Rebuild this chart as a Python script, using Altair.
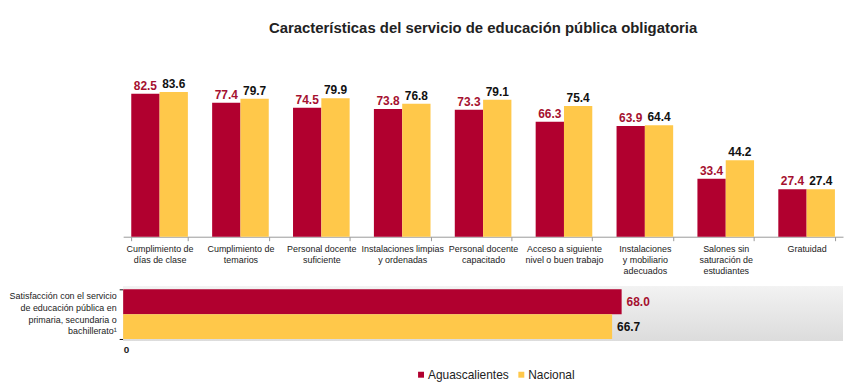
import altair as alt
import pandas as pd

categories = [
    "Cumplimiento de\ndías de clase",
    "Cumplimiento de\ntemarios",
    "Personal docente\nsuficiente",
    "Instalaciones limpias\ny ordenadas",
    "Personal docente\ncapacitado",
    "Acceso a siguiente\nnivel o buen trabajo",
    "Instalaciones\ny mobiliario\nadecuados",
    "Salones sin\nsaturación de\nestudiantes",
    "Gratuidad",
]
aguascalientes = [82.5, 77.4, 74.5, 73.8, 73.3, 66.3, 63.9, 33.4, 27.4]
nacional = [83.6, 79.7, 79.9, 76.8, 79.1, 75.4, 64.4, 44.2, 27.4]

series = ["Aguascalientes", "Nacional"]
sat_label = "Satisfacción con el servicio\nde educación pública en\nprimaria, secundaria o\nbachillerato¹"
sat_values = [68.0, 66.7]

RED = "#B1002F"
YEL = "#FFC84A"
RED_TXT = "#A5102F"
FONT = "Liberation Sans Narrow, Arial Narrow, Liberation Sans, Arial"

rows = []
for c, a, n in zip(categories, aguascalientes, nacional):
    rows.append({"cat": c, "serie": series[0], "valor": a})
    rows.append({"cat": c, "serie": series[1], "valor": n})
df_top = pd.DataFrame(rows)
df_bot = pd.DataFrame({"q": [sat_label] * 2, "serie": series, "valor": sat_values})

color = alt.Color(
    "serie:N",
    scale=alt.Scale(domain=series, range=[RED, YEL]),
    legend=alt.Legend(
        title=None, orient="none", direction="horizontal", legendX=294, legendY=290,
        symbolType="square", symbolSize=36, labelFontSize=12, labelFont=FONT,
        labelColor="#222", columnPadding=6, symbolStrokeWidth=0, labelOffset=1,
    ),
)
text_color = alt.condition(alt.datum.serie == series[0], alt.value(RED_TXT), alt.value("#111"))

TW = 725
xtop = alt.X(
    "cat:N", sort=categories, title=None,
    scale=alt.Scale(paddingInner=0.3, paddingOuter=0.1),
    axis=alt.Axis(
        labelAngle=0, labelExpr="split(datum.label, '\\n')", labelFont=FONT, labelFontSize=9,
        labelColor="#222", domainColor="#999", tickColor="#999", tickBand="extent", tickSize=4,
        labelPadding=4, labelLineHeight=11, labelBaseline="top",
    ),
)
ytop = alt.Y("valor:Q", scale=alt.Scale(domain=[0, 90]), axis=None)

base_top = alt.Chart(df_top).encode(x=xtop, xOffset=alt.XOffset("serie:N", sort=series))
bars_top = base_top.mark_bar().encode(y=ytop, color=color)
text_top = base_top.mark_text(dy=-8, fontWeight="bold", fontSize=12, font=FONT).encode(
    y=ytop, text=alt.Text("valor:Q", format=".1f"), color=text_color
)
top = alt.layer(bars_top, text_top).properties(
    width=TW, height=157,
    title=alt.TitleParams(
        "Características del servicio de educación pública obligatoria",
        font=FONT, fontSize=15, fontWeight="bold", color="#222", anchor="middle", offset=42,
    ),
)

W, H = 725, 50
xbot = alt.X(
    "valor:Q", scale=alt.Scale(domain=[0, 98.2]), title=None,
    axis=alt.Axis(values=[0], domain=False, ticks=False, grid=False, labelFont=FONT,
                  labelFontSize=10, labelFontWeight="bold", labelColor="#222", labelPadding=6),
)
ybot = alt.Y(
    "q:N", title=None, scale=alt.Scale(paddingInner=0, paddingOuter=0),
    axis=alt.Axis(labelExpr="split(datum.label, '\\n')", labelFont=FONT, labelFontSize=9,
                  labelColor="#222", labelLineHeight=12, domainColor="#111", tickColor="#111",
                  tickBand="extent", tickSize=4, labelPadding=3, labelOffset=-19),
)
bg = alt.Chart(df_bot).mark_rect(
    color=alt.Gradient(gradient="linear", x1=0, y1=0, x2=0, y2=1,
                       stops=[alt.GradientStop(color="#F2F2F2", offset=0),
                              alt.GradientStop(color="#DCDCDC", offset=1)])
).encode(x=alt.value(0), x2=alt.value(W), y=alt.value(-3), y2=alt.value(H + 2))
base_bot = alt.Chart(df_bot).encode(y=ybot, yOffset=alt.YOffset("serie:N", sort=series))
bars_bot = base_bot.mark_bar(size=25).encode(x=xbot, color=color)
text_bot = base_bot.mark_text(align="left", dx=5, fontWeight="bold", fontSize=12, font=FONT).encode(
    x=xbot, text=alt.Text("valor:Q", format=".1f"), color=text_color
)
bottom = alt.layer(bg, bars_bot, text_bot).properties(width=W, height=H)

chart = alt.vconcat(top, bottom, spacing=10).configure_view(
    stroke=None
).properties(padding={"left": 0, "top": 12, "right": 2, "bottom": 2})

chart.save("out.html", embed_options={"renderer": "svg", "actions": False})
